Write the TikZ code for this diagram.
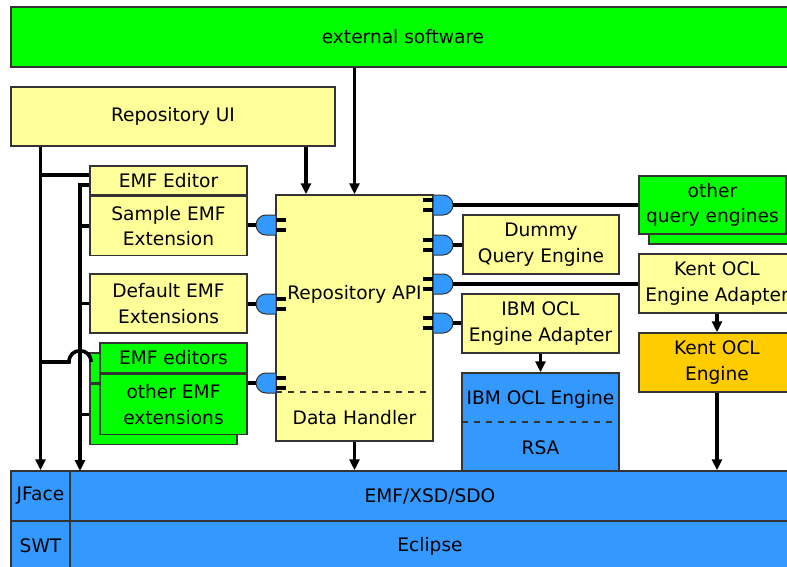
\documentclass[tikz,border=0pt]{standalone}
\usepackage{fontspec}
\setmainfont{DejaVu Sans}
\usepackage{tikz}
\usetikzlibrary{arrows.meta,positioning}
\definecolor{uiyel}{HTML}{FFFF99}
\definecolor{extgrn}{HTML}{00FF00}
\definecolor{eclblue}{HTML}{3399FF}
\definecolor{kentor}{HTML}{FFCC00}
\definecolor{edgec}{HTML}{333333}
\tikzset{
  plugl/.pic={
    \filldraw[fill=eclblue,draw=edgec,line width=0.5pt]
      (0,-10) -- (-10,-10) .. controls (-15.52,-10) and (-20,-5.52) .. (-20,0)
      .. controls (-20,5.52) and (-15.52,10) .. (-10,10) -- (0,10) -- cycle;
    \draw[line width=1.6pt] (0,-5) -- (10,-5) (0,5) -- (10,5);
    \coordinate (-tip) at (-20,0);
  }
}

\begin{document}
\begin{tikzpicture}[x=0.5pt,y=-0.5pt,font=\fontsize{9.3}{12.7}\selectfont,
  blk/.style={draw=edgec,line width=0.75pt,inner sep=1pt,align=center,
              minimum width=78.5pt,minimum height=29.5pt},
  yel/.style={blk,fill=uiyel},
  grn/.style={blk,fill=extgrn},
  blu/.style={blk,fill=eclblue},
  ln/.style={line width=1.8pt},
  ar/.style={line width=1.8pt,-{Triangle[width=5pt,length=5.5pt]}},
  sep/.style={dashed,draw=edgec,line width=0.6pt},
]
\useasboundingbox (0,0) rectangle (787,567);
\clip (0,0) rectangle (787,567);

\node[grn,minimum width=392pt,minimum height=30pt] (ext) at (403,37) {external software};
\node[yel,minimum width=162pt] (repui) at (173,116.5) {Repository UI};

% editors and extensions on the left
\node[yel,minimum height=14.5pt] (emfed) at (168.5,180.5) {EMF Editor};
\node[yel,below=0pt of emfed] (sample) {Sample EMF\\Extension};
\node[yel] (default) at (168.5,303.5) {Default EMF\\Extensions};
\node[grn,minimum width=73.5pt,minimum height=15pt] (gbtop) at (163.5,368) {};
\node[grn,minimum width=73.5pt,minimum height=30pt,below=0pt of gbtop] (gbbot) {};
\node[grn,minimum width=73.5pt,minimum height=15pt] (gftop) at (173.5,358) {EMF editors};
\node[grn,minimum width=73.5pt,minimum height=30pt,below=0pt of gftop] (gfbot) {other EMF\\extensions};

% repository API
\node[yel,minimum height=123pt] (api) at (354.5,318) {};
\node (apilbl) at (354.5,294.5) {Repository API};
\node (dh) at (354.5,417.5) {Data Handler};
\coordinate (dhl) at (276,392);
\coordinate (dhr) at (433,392);
\draw[sep] (dhl) -- (dhr);

% query engines
\node[grn,minimum width=73.5pt,minimum height=29pt] (oqeb) at (722.5,215) {};
\node[grn,minimum width=73.5pt,minimum height=29pt] (oqe) at (712.5,205) {other\\query engines};
\node[yel,minimum width=78pt] (dummy) at (541,244.5) {Dummy\\Query Engine};
\node[yel,minimum width=78pt] (kentad) at (717,283.5) {Kent OCL\\Engine Adapter};
\node[blk,fill=kentor,minimum width=78pt] (kent) at (717,362.5) {Kent OCL\\Engine};
\node[yel] (ibmad) at (540.5,323.5) {IBM OCL\\Engine Adapter};
\node[blu,minimum height=49.5pt] (ibm) at (540.5,422.5) {};
\node (ibmtxt) at (540.5,399) {IBM OCL Engine};
\node (rsa) at (540.5,448) {RSA};
\coordinate (ibml) at (462,422);
\coordinate (ibmr) at (619,422);
\draw[sep] (ibml) -- (ibmr);

% platform
\node[blu,minimum width=29.5pt,minimum height=25pt] (jface) at (40.5,496) {JFace};
\node[blu,minimum width=360pt,minimum height=25pt] (emf) at (430,496) {EMF/XSD/SDO};
\node[blu,minimum width=29.5pt,minimum height=25pt] (swt) at (40.5,546) {SWT};
\node[blu,minimum width=360pt,minimum height=25pt] (ecl) at (430,546) {Eclipse};

% left wiring
\coordinate (t1) at (41,175);
\coordinate (t2) at (80,185);
\coordinate (b2) at (80,471);
\coordinate (h1) at (41,362);
\draw[ar] (repui.south -| jface) -- (jface.north);
\draw[ln] (t1) -- (emfed.west |- t1);
\draw[ar] (emfed.west |- t2) -- (t2) -- (b2);
\draw[ln] (sample.west -| t2) -- (sample.west);
\draw[ln] (default.west -| t2) -- (default.west);
\draw[ln] (gbbot.west -| t2) -- (gbbot.west);
\draw[ln] (h1) -- (69,362) .. controls (69,347) and (91,347) .. (91,362);

% top arrows
\coordinate (uix) at (306,0);
\draw[ar] (repui.south -| uix) -- (api.north -| uix);
\draw[ar] (ext.south -| api.north) -- (api.north);
\draw[ar] (api.south) -- (api.south |- emf.north);
\draw[ar] (ibmad) -- (ibm);
\draw[ar] (kentad) -- (kent);
\draw[ar] (kent.south) -- (kent.south |- emf.north);

% plugs
\pic (pl1) at (276,225) {plugl};
\pic (pl2) at (276,304) {plugl};
\pic (pl3) at (276,383) {plugl};
\pic[xscale=-1] (pr1) at (433,205) {plugl};
\pic[xscale=-1] (pr2) at (433,245) {plugl};
\pic[xscale=-1] (pr3) at (433,284) {plugl};
\pic[xscale=-1] (pr4) at (433,323) {plugl};
\draw[ln] (sample.east |- pl1-tip) -- (pl1-tip);
\draw[ln] (default.east |- pl2-tip) -- (pl2-tip);
\draw[ln] (gfbot.east |- pl3-tip) -- (pl3-tip);
\draw[ln] (pr1-tip) -- (oqe.west |- pr1-tip);
\draw[ln] (pr2-tip) -- (dummy.west |- pr2-tip);
\draw[ln] (pr3-tip) -- (kentad.west |- pr3-tip);
\draw[ln] (pr4-tip) -- (ibmad.west |- pr4-tip);
\end{tikzpicture}
\end{document}
